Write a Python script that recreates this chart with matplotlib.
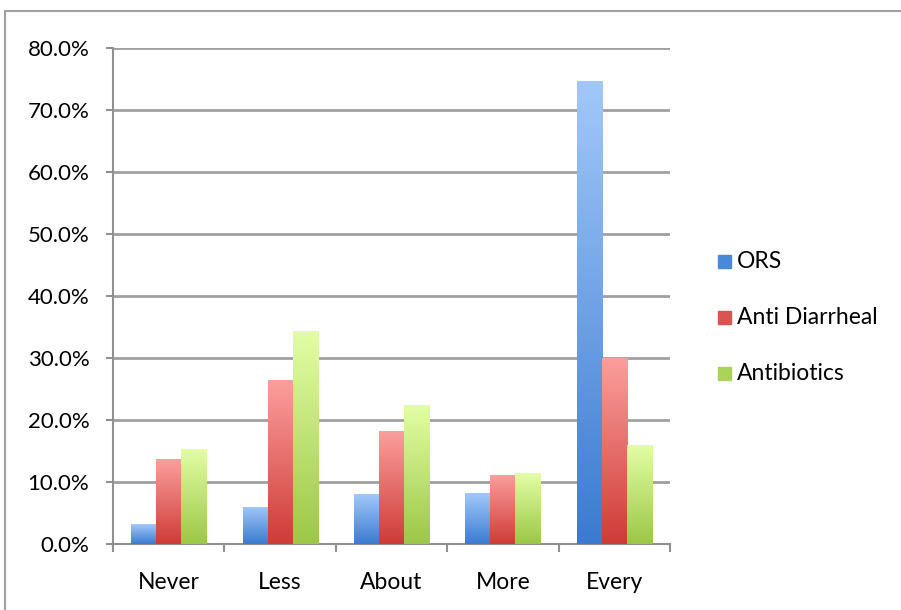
import matplotlib
matplotlib.use("Agg")
import matplotlib.pyplot as plt
import numpy as np
from matplotlib.colors import LinearSegmentedColormap
from matplotlib.patches import Rectangle

plt.rcParams['font.family'] = ['Lato', 'DejaVu Sans']

categories = ["Never", "Less", "About", "More", "Every"]
series_names = ["ORS", "Anti Diarrheal", "Antibiotics"]
ors = [3.2, 6.0, 8.0, 8.2, 74.6]
anti_diarrheal = [13.7, 26.4, 18.2, 11.2, 30.0]
antibiotics = [15.4, 34.4, 22.4, 11.4, 15.9]
y_ticks = [0, 10, 20, 30, 40, 50, 60, 70, 80]
y_tick_labels = ["0.0%", "10.0%", "20.0%", "30.0%", "40.0%", "50.0%", "60.0%", "70.0%", "80.0%"]

series_values = [ors, anti_diarrheal, antibiotics]
# (bottom color, top color)
grads = [("#3a7bd0", "#a2c8fa"), ("#cf3b37", "#fb9f9c"), ("#9cc746", "#e3fea6")]
legend_colors = ["#4a88d8", "#dc5450", "#a9d35a"]

W, H = 901, 610
fig = plt.figure(figsize=(W / 100, H / 100), dpi=100)
fig.patches.append(Rectangle((5 / W, -0.01), 1.0, (H - 11) / H + 0.01, transform=fig.transFigure,
                             fill=False, edgecolor="#a0a0a0", linewidth=1.5))
ax = fig.add_axes([113 / W, (H - 544) / H, (670 - 113) / W, (544 - 48) / H])

n = len(categories)
x = np.arange(n)
width = 0.225
offsets = [-width, 0, width]
for vals, off, (c0, c1), lc, name in zip(series_values, offsets, grads, legend_colors, series_names):
    bars = ax.bar(x + off, vals, width, color=lc, label=name, zorder=3, linewidth=0)
    cmap = LinearSegmentedColormap.from_list("g", [c0, c1])
    for b in bars:
        bx, by = b.get_x(), b.get_y()
        bw, bh = b.get_width(), b.get_height()
        grad = np.linspace(0, 1, 256).reshape(-1, 1)
        im = ax.imshow(grad, cmap=cmap, origin="lower", aspect="auto",
                       extent=[bx, bx + bw, by, by + bh], zorder=4)
        im.set_clip_path(b)

ax.set_xlim(-0.5, n - 0.5)
ax.set_ylim(0, 80)
ax.set_yticks(y_ticks)
ax.set_yticklabels(y_tick_labels)
ax.yaxis.grid(True, color="#a0a0a0", linewidth=2, zorder=0)
ax.set_axisbelow(True)
ax.set_xticks(np.arange(n + 1) - 0.5)
ax.set_xticklabels([])
ax.set_xticks(x, minor=True)
ax.set_xticklabels(categories, minor=True)
ax.tick_params(axis="x", which="minor", length=0, pad=20, labelsize=16.5)
ax.tick_params(axis="x", which="major", length=6, width=1.5, color="#909090")
ax.tick_params(axis="y", length=5, width=1.5, color="#909090", labelsize=16, pad=12)
for s in ["top", "right"]:
    ax.spines[s].set_visible(False)
for s in ["left", "bottom"]:
    ax.spines[s].set_color("#909090")
    ax.spines[s].set_linewidth(1.5)

# legend drawn in figure pixel positions
leg_y = [262, 318, 374]
for name, c, yy in zip(series_names, legend_colors, leg_y):
    fig.patches.append(Rectangle((718 / W, (H - yy - 6) / H), 13 / W, 13 / H,
                                 transform=fig.transFigure, color=c))
    fig.text(737 / W, (H - yy) / H, name, fontsize=16.5, va="center", ha="left")

fig.savefig("out.png", dpi=100)
